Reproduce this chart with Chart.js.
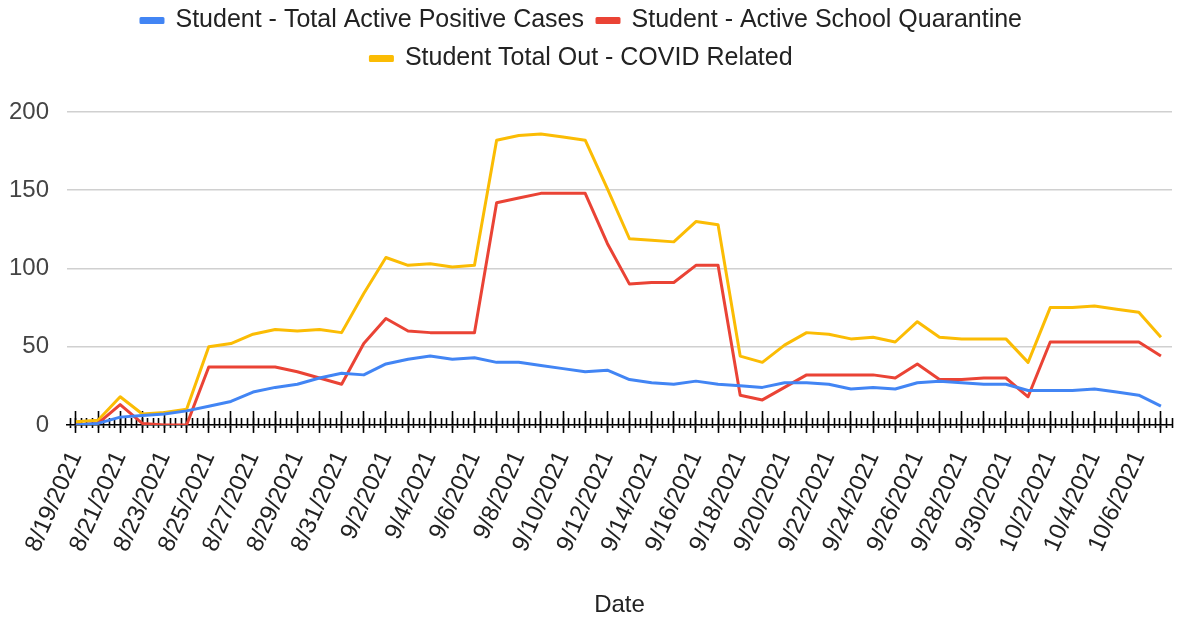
<!DOCTYPE html>
<html>
<head>
<meta charset="utf-8">
<script src="https://cdn.jsdelivr.net/npm/chart.js@4"></script>
<style>
    body { margin: 0; background: #fff; }
    #wrap { width: 1178px; height: 620px; }
</style>
</head>
<body>
<div id="wrap"><canvas id="myChart"></canvas></div>
<script>
// one entry per day, 8/19/2021 .. 10/7/2021
var dates = ['8/19/2021', '8/20/2021', '8/21/2021', '8/22/2021', '8/23/2021', '8/24/2021', '8/25/2021', '8/26/2021',
    '8/27/2021', '8/28/2021', '8/29/2021', '8/30/2021', '8/31/2021', '9/1/2021', '9/2/2021', '9/3/2021',
    '9/4/2021', '9/5/2021', '9/6/2021', '9/7/2021', '9/8/2021', '9/9/2021', '9/10/2021', '9/11/2021',
    '9/12/2021', '9/13/2021', '9/14/2021', '9/15/2021', '9/16/2021', '9/17/2021', '9/18/2021', '9/19/2021',
    '9/20/2021', '9/21/2021', '9/22/2021', '9/23/2021', '9/24/2021', '9/25/2021', '9/26/2021', '9/27/2021',
    '9/28/2021', '9/29/2021', '9/30/2021', '10/1/2021', '10/2/2021', '10/3/2021', '10/4/2021', '10/5/2021',
    '10/6/2021', '10/7/2021'];

var activePositive = [0, 1, 5, 6, 7, 9, 12, 15, 21, 24, 26, 30, 33, 32, 39, 42, 44, 42, 43, 40,
    40, 38, 36, 34, 35, 29, 27, 26, 28, 26, 25, 24, 27, 27, 26, 23, 24, 23, 27, 28,
    27, 26, 26, 22, 22, 22, 23, 21, 19, 12];

var schoolQuarantine = [0, 1, 13, 1, 0, 0, 37, 37, 37, 37, 34, 30, 26, 52, 68, 60, 59, 59, 59, 142,
    145, 148, 148, 148, 116, 90, 91, 91, 102, 102, 19, 16, 24, 32, 32, 32, 32, 30, 39, 29,
    29, 30, 30, 18, 53, 53, 53, 53, 53, 44];

var totalOut = [2, 3, 18, 7, 8, 10, 50, 52, 58, 61, 60, 61, 59, 84, 107, 102, 103, 101, 102, 182,
    185, 186, 184, 182, 151, 119, 118, 117, 130, 128, 44, 40, 51, 59, 58, 55, 56, 53, 66, 56,
    55, 55, 55, 40, 75, 75, 76, 74, 72, 56];

var seriesNames = ['Student - Total Active Positive Cases', 'Student - Active School Quarantine', 'Student Total Out - COVID Related'];
var seriesColors = ['#4285f4', '#ea4335', '#fbbc04'];
var yTicks = [0, 50, 100, 150, 200];

var FONT = "'Liberation Sans', Arial, sans-serif";
var X_MIN = -0.4, X_MAX = 49.5;

function toPoints(arr){
    let pts = [];
    for(var i = 0; i < arr.length; i++){
        pts.push({x: i, y: arr[i]});
    }
    return pts;
}

function isDay(v){
    return Math.abs(v - Math.round(v)) < 1e-6;
}

//extra axes only there to draw the dense tick marks around the zero line
function tickAxis(step, len){
    return {
        type: 'linear',
        axis: 'x',
        position: {y: 0},
        min: X_MIN,
        max: X_MAX,
        ticks: {display: false, stepSize: step, autoSkip: false, includeBounds: false},
        grid: {drawOnChartArea: false, drawTicks: true, tickLength: len, tickColor: '#000', tickWidth: 1.6},
        border: {display: false}
    };
}

//push the plot down below the legend
var legendGap = {
    id: 'legendGap',
    beforeInit: function(chart){
        var fit = chart.legend.fit;
        chart.legend.fit = function(){
            fit.bind(chart.legend)();
            this.height += 31;
        };
    }
};

var ctx = document.getElementById('myChart').getContext('2d');

var datasets = [];
var series = [activePositive, schoolQuarantine, totalOut];
for(var s = 0; s < series.length; s++){
    datasets.push({
        label: seriesNames[s],
        data: toPoints(series[s]),
        borderColor: seriesColors[s],
        backgroundColor: seriesColors[s],
        borderWidth: 3,
        pointRadius: 0,
        tension: 0,
        borderJoinStyle: 'round'
    });
}

new Chart(ctx, {
    type: 'line',
    data: {datasets: datasets},
    plugins: [legendGap],
    options: {
        responsive: true,
        maintainAspectRatio: false,
        animation: false,
        layout: {padding: {left: -9, right: 6, top: -5, bottom: 0}},
        plugins: {
            legend: {
                position: 'top',
                labels: {
                    font: {family: FONT, size: 25},
                    color: '#222',
                    boxWidth: 22,
                    boxHeight: 4,
                    padding: 13
                }
            },
            tooltip: {enabled: false}
        },
        scales: {
            x: {
                type: 'linear',
                min: X_MIN,
                max: X_MAX,
                afterFit: function(axis){
                    // rotated labels may hang outside the plot, like the original
                    axis.paddingLeft = 0;
                    axis.paddingRight = 0;
                },
                ticks: {
                    stepSize: 1,
                    autoSkip: false,
                    includeBounds: false,
                    maxRotation: 66,
                    minRotation: 66,
                    color: '#222',
                    font: {family: FONT, size: 24},
                    padding: 14,
                    callback: function(v){
                        if(isDay(v) && Math.round(v) % 2 === 0 && Math.round(v) >= 0 && Math.round(v) < dates.length){
                            return dates[Math.round(v)];
                        }
                        return '';
                    }
                },
                grid: {drawOnChartArea: false, drawTicks: true, tickLength: 8, tickColor: '#000', tickWidth: 1.6},
                border: {color: '#000', width: 1.5},
                title: {
                    display: true,
                    text: 'Date',
                    color: '#222',
                    font: {family: FONT, size: 24},
                    padding: {top: 21, bottom: 0}
                }
            },
            xShortUp: tickAxis(0.25, -7),
            xShortDown: tickAxis(0.25, 3),
            xLongUp: tickAxis(1, -14),
            y: {
                min: 0,
                max: 200,
                afterBuildTicks: function(axis){
                    axis.ticks = yTicks.map(function(v){ return {value: v}; });
                },
                ticks: {
                    color: '#444',
                    font: {family: FONT, size: 24},
                    padding: 18
                },
                grid: {color: '#d0d0d0', lineWidth: 1.5, drawTicks: false},
                border: {display: false}
            }
        }
    }
});
</script>
</body>
</html>
